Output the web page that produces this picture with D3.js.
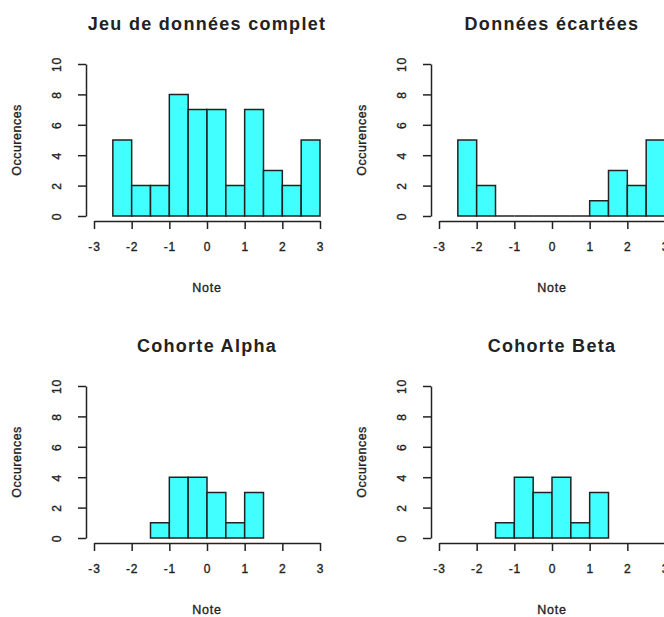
<!DOCTYPE html>
<html>
<head>
<meta charset="utf-8">
<script src="https://cdn.jsdelivr.net/npm/d3@7"></script>
<style>
  body { margin: 0; background: #fff; }
  svg { display: block; font-family: "Liberation Sans", Arial, sans-serif; }
  .axis path, .axis line { stroke: #222; stroke-width: 1.5; }
  .axis text { fill: #222; font-size: 12px; letter-spacing: 0.8px; stroke: #222; stroke-width: 0.35; }
  .lab { fill: #222; stroke: #222; stroke-width: 0.35; }
</style>
</head>
<body>
<svg id="chart" width="664" height="617"></svg>
<script>
// bin edges shared by all histograms (width 0.5)
const binEdges = [-2.5, -2, -1.5, -1, -0.5, 0, 0.5, 1, 1.5, 2, 2.5, 3];

// counts per bin
const countsComplet = [5, 2, 2, 8, 7, 7, 2, 7, 3, 2, 5];
const countsEcartees = [5, 2, 0, 0, 0, 0, 0, 1, 3, 2, 5];
const countsAlpha = [0, 0, 1, 4, 4, 3, 1, 3, 0, 0, 0];
const countsBeta = [0, 0, 1, 4, 3, 4, 1, 3, 0, 0, 0];

const titles = ['Jeu de données complet', 'Données écartées', 'Cohorte Alpha', 'Cohorte Beta'];
const xTicks = [-3, -2, -1, 0, 1, 2, 3];
const yTicks = [0, 2, 4, 6, 8, 10];

const panels = [
  {title: titles[0], counts: countsComplet, dx: 0, dy: 0},
  {title: titles[1], counts: countsEcartees, dx: 345, dy: 0},
  {title: titles[2], counts: countsAlpha, dx: 0, dy: 322},
  {title: titles[3], counts: countsBeta, dx: 345, dy: 322}
];

const svg = d3.select('#chart');

const x = d3.scaleLinear().domain([-3, 3]).range([94, 320]);
const y = d3.scaleLinear().domain([0, 10]).range([216, 64]);

panels.forEach(p => {
  const g = svg.append('g').attr('transform', `translate(${p.dx},${p.dy})`);

  // R keeps empty bins only between the first and last non-empty one
  const first = p.counts.findIndex(c => c > 0);
  const last = p.counts.length - 1 - [...p.counts].reverse().findIndex(c => c > 0);
  const bins = p.counts
    .map((c, i) => ({x0: binEdges[i], x1: binEdges[i + 1], n: c}))
    .filter((d, i) => i >= first && i <= last);

  // drawn as closed paths so that empty bins still show on the baseline
  g.selectAll('path.bar')
    .data(bins)
    .enter().append('path')
      .attr('class', 'bar')
      .attr('d', d => `M${x(d.x0)},${y(0)}V${y(d.n)}H${x(d.x1)}V${y(0)}Z`)
      .attr('fill', '#42ffff')
      .attr('stroke', '#222')
      .attr('stroke-width', 1.5);

  // x axis, offset below the plot like base R
  const xg = g.append('g')
    .attr('class', 'axis')
    .attr('transform', 'translate(0,221)')
    .call(d3.axisBottom(x).tickValues(xTicks).tickSize(8).tickSizeOuter(0).tickFormat(d => String(d)));
  xg.selectAll('text').attr('y', 26).attr('dy', '0.35em');

  // y axis, labels parallel to the axis
  const yg = g.append('g')
    .attr('class', 'axis')
    .attr('transform', 'translate(86,0)')
    .call(d3.axisLeft(y).tickValues(yTicks).tickSize(8).tickSizeOuter(0));
  yg.selectAll('text')
    .attr('x', null)
    .attr('dy', '0.35em')
    .attr('text-anchor', 'middle')
    .attr('transform', 'translate(-29,0) rotate(-90)');

  g.append('text')
    .attr('x', 207)
    .attr('y', 24)
    .attr('dy', '0.35em')
    .attr('text-anchor', 'middle')
    .attr('font-size', 18)
    .attr('font-weight', 'bold')
    .attr('letter-spacing', 1.3)
    .attr('fill', '#222')
    .text(p.title);

  g.append('text')
    .attr('class', 'lab')
    .attr('x', 207)
    .attr('y', 288)
    .attr('dy', '0.35em')
    .attr('text-anchor', 'middle')
    .attr('font-size', 12.5)
    .attr('letter-spacing', 0.8)
    .text('Note');

  g.append('text')
    .attr('class', 'lab')
    .attr('transform', 'translate(17,140) rotate(-90)')
    .attr('dy', '0.35em')
    .attr('text-anchor', 'middle')
    .attr('font-size', 12.5)
    .attr('letter-spacing', 0.5)
    .text('Occurences');
});
</script>
</body>
</html>
